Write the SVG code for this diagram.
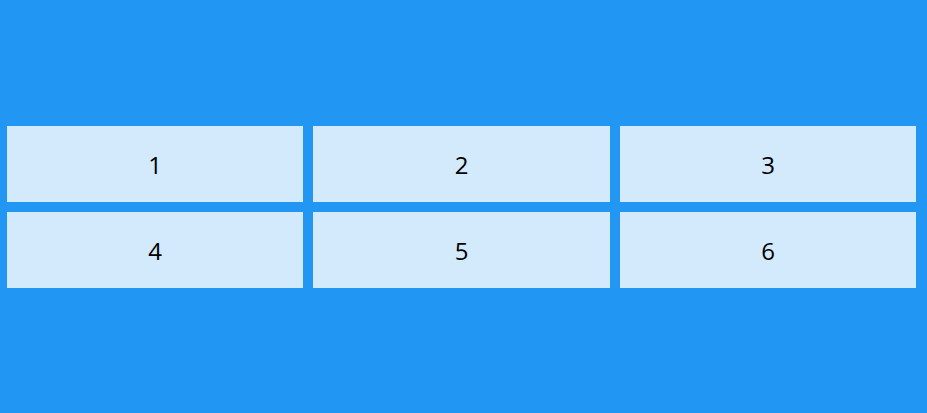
<svg xmlns="http://www.w3.org/2000/svg" width="927" height="413" viewBox="0 0 927 413">
<style>
.cell{fill:#D3E9FC}
.lbl{font-family:"Open Sans","DejaVu Sans",sans-serif;font-size:24px;fill:#000;text-anchor:middle;dominant-baseline:central}
</style>
<rect width="927" height="413" fill="#2196F3"/>
<g id="node1"><rect class="cell" x="7" y="126" width="296" height="76"/><text class="lbl" x="155" y="164">1</text></g>
<g id="node2"><rect class="cell" x="313" y="126" width="297" height="76"/><text class="lbl" x="461.5" y="164">2</text></g>
<g id="node3"><rect class="cell" x="620" y="126" width="296" height="76"/><text class="lbl" x="768" y="164">3</text></g>
<g id="node4"><rect class="cell" x="7" y="212" width="296" height="76"/><text class="lbl" x="155" y="250">4</text></g>
<g id="node5"><rect class="cell" x="313" y="212" width="297" height="76"/><text class="lbl" x="461.5" y="250">5</text></g>
<g id="node6"><rect class="cell" x="620" y="212" width="296" height="76"/><text class="lbl" x="768" y="250">6</text></g>
<g id="connectors"/>
</svg>
